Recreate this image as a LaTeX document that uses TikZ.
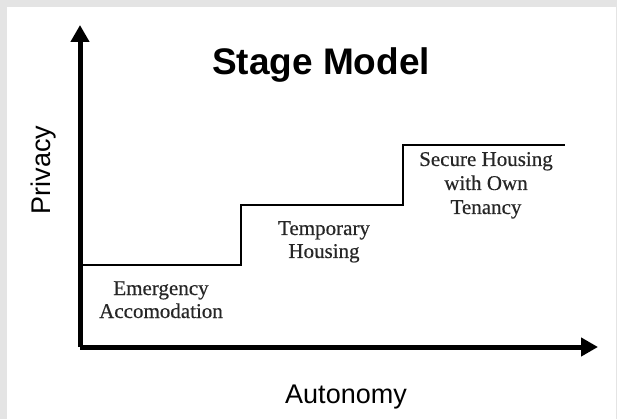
\documentclass[tikz,border=0pt]{standalone}
\usepackage{fontspec}
\setmainfont{Liberation Serif}
\newfontfamily\labelfont[FakeBold=0.4]{Liberation Serif}
\newfontfamily\sansfont{Liberation Sans}
\usetikzlibrary{arrows.meta}
\definecolor{framegray}{HTML}{E4E4E4}
\definecolor{labelgray}{HTML}{262626}
\tikzset{
  axis/.style={line width=5pt, line join=round, -{Triangle[length=17pt,width=18pt]}},
  stair/.style={line width=2.6pt, line join=miter},
  steplabel/.style={font=\labelfont\fontsize{21}{24}\selectfont, text=labelgray, align=center, anchor=base, inner sep=0pt},
  axislabel/.style={font=\sansfont\fontsize{27}{30}\selectfont, anchor=base, inner sep=0pt},
  titlelabel/.style={font=\sansfont\bfseries\fontsize{37}{40}\selectfont, anchor=base, inner sep=0pt}
}
\begin{document}
\begin{tikzpicture}[x=1pt,y=-1pt]
\useasboundingbox (0,0) rectangle (617,419);
\fill[framegray] (0,0) rectangle (617,419);
\fill[white] (7,7) rectangle (616,419);
% axes
\coordinate (origin) at (80,347);
\coordinate (ytip) at (80,25);
\coordinate (xtip) at (598,347);
\draw[axis] (origin) -- (ytip);
\draw[axis] (origin) -- (xtip);
% stairs
\coordinate (s0) at (80,265);
\coordinate (s1) at (241,265);
\coordinate (s2) at (241,205);
\coordinate (s3) at (403,205);
\coordinate (s4) at (403,145);
\coordinate (s5) at (565,145);
\draw[stair] (s0) -- (s1) -- (s2) -- (s3) -- (s4) -- (s5);
% labels
\node[titlelabel] (title) at (321,75) {Stage Model};
\node[axislabel] (xlab) at (346,403) {Autonomy};
\node[axislabel, rotate=90] (ylab) at (50,170) {Privacy};
\node[steplabel] (em1) at (161,295) {Emergency};
\node[steplabel] (em2) at (161,318) {Accomodation};
\node[steplabel] (tp1) at (324,235) {Temporary};
\node[steplabel] (tp2) at (324,258) {Housing};
\node[steplabel] (sh1) at (486,166) {Secure Housing};
\node[steplabel] (sh2) at (486,190) {with Own};
\node[steplabel] (sh3) at (486,214) {Tenancy};
\end{tikzpicture}
\end{document}
